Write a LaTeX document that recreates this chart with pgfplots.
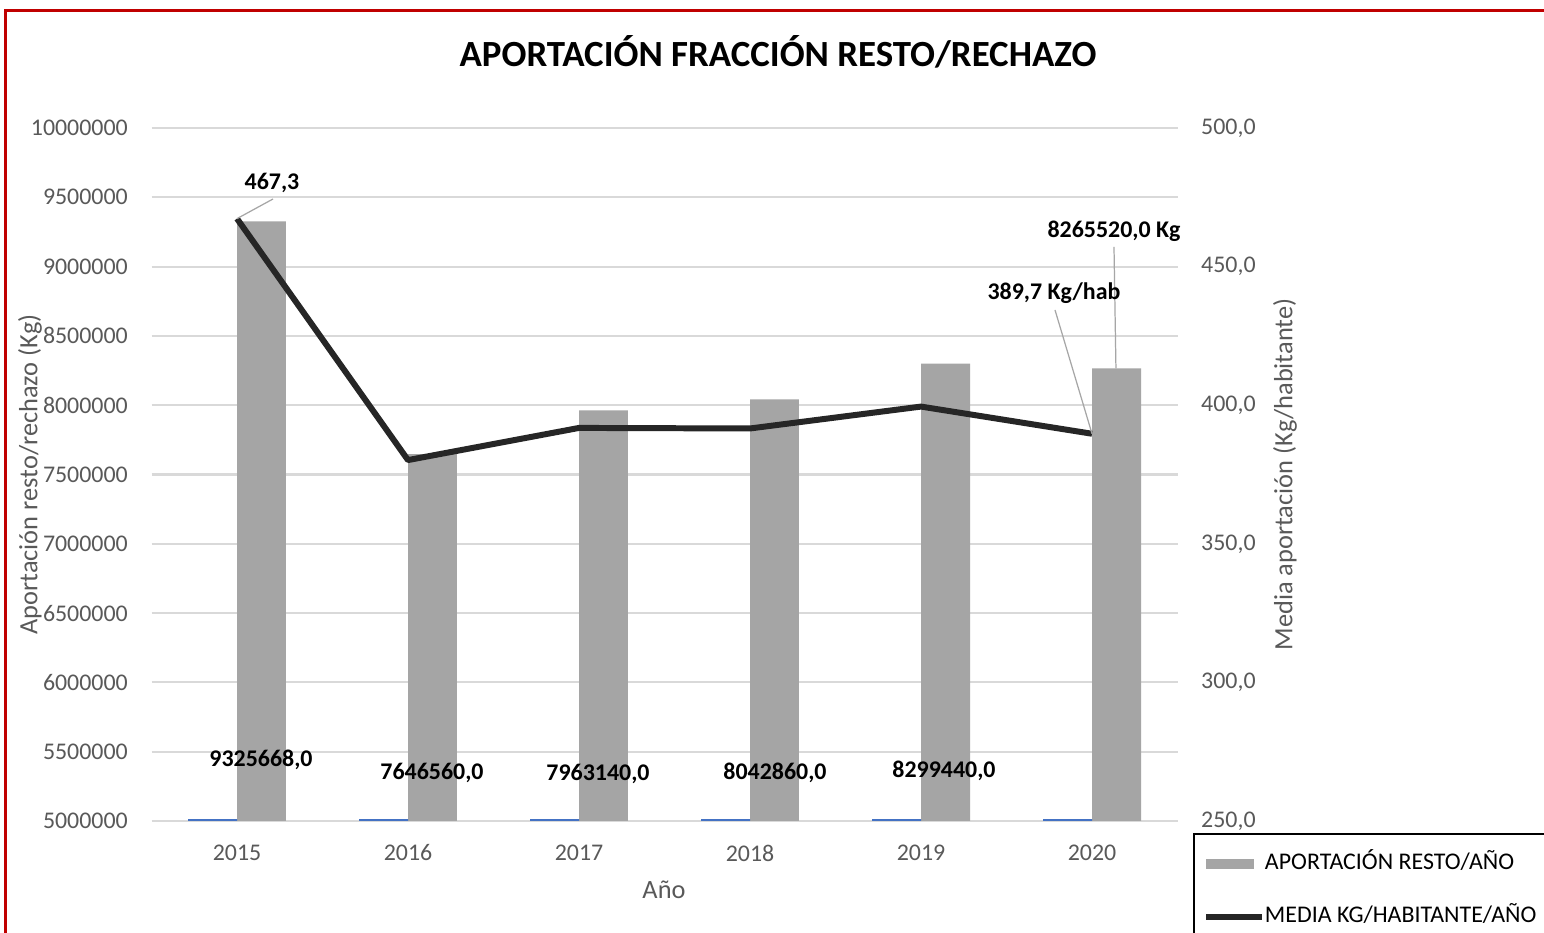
\documentclass[border=0pt]{standalone}
\usepackage{pgfplots}
\pgfplotsset{compat=1.18}
\usepackage{fontspec}
\setmainfont{Carlito}
\definecolor{bargray}{HTML}{A5A5A5}
\definecolor{linecol}{HTML}{262626}
\definecolor{tickgray}{HTML}{595959}
\definecolor{gridgray}{HTML}{D9D9D9}
\definecolor{framered}{HTML}{C00000}
\definecolor{blueb}{HTML}{4472C4}
\definecolor{leader}{HTML}{A6A6A6}
\pgfplotsset{common/.style={
  at={(1.515cm,1.12cm)}, anchor=south west, scale only axis,
  width=10.26cm, height=6.93cm,
  xmin=-0.5, xmax=5.5, xtick={0,1,2,3,4,5},
  axis line style={draw=none}, tick style={draw=none},
  major tick length=0pt,
  tick label style={font=\fontsize{6.8}{8}\selectfont, text=tickgray},
  /pgf/number format/assume math mode=true,
}}
\begin{document}
\begin{tikzpicture}
\fill[white] (0,0) rectangle (15.44,9.33);
\draw[framered, line width=0.03cm] (0.06,9.22) rectangle (15.8,-0.3);

\begin{axis}[common,
  ymin=5000000, ymax=10000000,
  ytick={5000000,5500000,6000000,6500000,7000000,7500000,8000000,8500000,9000000,9500000,10000000},
  scaled y ticks=false,
  yticklabel style={/pgf/number format/fixed, /pgf/number format/1000 sep={}, anchor=east, inner sep=0pt, xshift=-0.23cm},
  xticklabels={2015,2016,2017,2018,2019,2020},
  xticklabel style={anchor=north, inner sep=0pt, yshift=-0.23cm},
  ymajorgrids, grid style={gridgray, line width=0.6pt},
  xlabel={Año},
  every axis x label/.style={at={(axis description cs:0.4995,-0.0996)}, anchor=center, font=\fontsize{7.5}{9}\selectfont, text=tickgray},
  ylabel={Aportación resto/rechazo (Kg)},
  every axis y label/.style={at={(axis description cs:-0.1184,0.5)}, rotate=90, anchor=center, font=\fontsize{7.5}{9}\selectfont, text=tickgray},
  legend cell align=left,
  legend style={at={(axis description cs:1.0151,-0.0173)}, anchor=north west,
    draw=black, line width=0.57pt, fill=white,
    inner xsep=0.09cm, inner ysep=0.19cm, row sep=0.31cm,
    /tikz/column sep=0cm,
    font=\fontsize{6.8}{8}\selectfont,
    nodes={inner sep=0pt, text height=0.17cm, text depth=0.05cm}},
]
\addplot[ybar, bar width=0.2865, bar shift=0.14325, fill=bargray, draw=none,
  legend image code/.code={\fill[bargray] (0cm,-0.05cm) rectangle (0.48cm,0.05cm);}]
  coordinates {(0,9325668) (1,7646560) (2,7963140) (3,8042860) (4,8299440) (5,8265520)};
\addlegendentry{APORTACIÓN RESTO/AÑO\hspace*{0.6cm}}
\addplot[ybar, bar width=0.2865, bar shift=-0.14325, fill=blueb, draw=none, forget plot]
  coordinates {(0,5014000) (1,5014000) (2,5014000) (3,5014000) (4,5014000) (5,5014000)};
\addlegendimage{legend image code/.code={\draw[linecol, line width=1.7pt] (0cm,0cm) -- (0.56cm,0cm);}}
\addlegendentry{MEDIA KG/HABITANTE/AÑO\hspace*{0.6cm}}
\coordinate (bar2020) at (axis cs:5.14,8265520);
\end{axis}

\begin{axis}[common,
  ymin=250, ymax=500, ytick={250,300,350,400,450,500},
  axis y line*=right, axis x line=none,
  xticklabels={},
  yticklabel style={/pgf/number format/fixed, /pgf/number format/fixed zerofill, /pgf/number format/precision=1, /pgf/number format/use comma, anchor=west, inner sep=0pt, xshift=0.23cm},
  ylabel={Media aportación (Kg/habitante)},
  every axis y label/.style={at={(axis description cs:1.1048,0.5)}, rotate=90, anchor=center, font=\fontsize{7.5}{9}\selectfont, text=tickgray},
]
\addplot[linecol, line width=1.7pt, line join=round, mark=none]
  coordinates {(0,467.3) (1,380.2) (2,391.8) (3,391.6) (4,399.5) (5,389.7)};
\coordinate (p2015) at (axis cs:0,467.3);
\coordinate (p2020) at (axis cs:5,389.7);
\end{axis}

\draw[leader, line width=0.35pt] (bar2020) -- (11.14,6.86);
\draw[leader, line width=0.35pt] (p2015) -- (2.73,7.34);
\draw[leader, line width=0.35pt] (p2020) -- (10.55,6.23);

\begin{scope}[every node/.style={font=\bfseries\fontsize{6.8}{8}\selectfont, anchor=base, inner sep=0pt}]
\node at (2.72,7.435) {467,3};
\node at (2.61,1.665) {9325668,0};
\node at (4.32,1.535) {7646560,0};
\node at (5.98,1.525) {7963140,0};
\node at (7.75,1.535) {8042860,0};
\node at (9.44,1.555) {8299440,0};
\node at (11.14,6.957) {8265520,0 Kg};
\node at (10.54,6.33) {389,7 Kg/hab};
\end{scope}
\node[font=\bfseries\fontsize{10.5}{12}\selectfont, anchor=base, inner sep=0pt] at (7.78,8.66) {APORTACIÓN FRACCIÓN RESTO/RECHAZO};
\pgfresetboundingbox
\useasboundingbox (0,0) rectangle (15.44,9.33);
\end{tikzpicture}
\end{document}
